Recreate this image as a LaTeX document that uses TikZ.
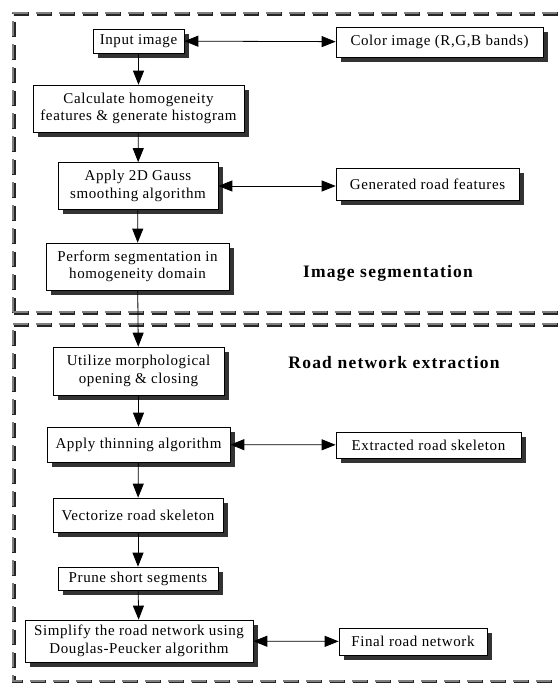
\documentclass[tikz,border=0pt]{standalone}
\usepackage{fontspec}
\setmainfont{Liberation Serif}[LetterSpace=4]
\usetikzlibrary{arrows.meta,shadows}

\begin{document}
\begin{tikzpicture}[x=1pt,y=-1pt,line width=0.8pt,
  >={Triangle[length=14pt,width=11pt]},
  box/.style={draw,line width=0.7pt,fill=white,align=center,inner sep=2pt,
    font=\fontsize{15}{17.5}\selectfont,
    drop shadow={shadow xshift=4.5pt,shadow yshift=-4.5pt,fill=black!80,opacity=1}},
  lbl/.style={font=\fontsize{17.5}{20}\selectfont\bfseries\addfontfeatures{LetterSpace=7}},
  border/.style={draw=black!85,line width=4.5pt,dash pattern=on 15pt off 8pt},
  bordertop/.style={draw=black!50,line width=2pt,dash pattern=on 15pt off 8pt,
    transform canvas={shift={(-0.8pt,0.8pt)}}}]
\useasboundingbox (0,0) rectangle (559,683);
\clip (0,0) rectangle (559,683);
% frames
\foreach \s in {border,bordertop}{
  \draw[\s] (14,313) -- (14,14) -- (575,14);
  \draw[\s] (14,313) -- (575,313);
  \draw[\s] (14,325) -- (575,325);
  \draw[\s] (14,331) -- (14,682) -- (575,682);
}
% left column
\node[box,minimum width=91pt,minimum height=24pt] (inp) at (138.5,41) {Input image};
\node[box,minimum width=211pt,minimum height=47pt] (calc) at (138.5,108.5) {Calculate homogeneity\\features \& generate histogram};
\node[box,minimum width=160pt,minimum height=47pt] (gauss) at (138,186) {Apply 2D Gauss\\smoothing algorithm};
\node[box,minimum width=183pt,minimum height=47pt] (perf) at (137.5,266.5) {Perform segmentation in\\homogeneity domain};
\node[box,minimum width=171pt,minimum height=48pt] (morph) at (138.5,371) {Utilize morphological\\opening \& closing};
\node[box,minimum width=183pt,minimum height=35pt] (thin) at (138.5,444.5) {Apply thinning algorithm};
\node[box,minimum width=170pt,minimum height=34pt] (vect) at (138,515) {Vectorize road skeleton};
\node[box,minimum width=160pt,minimum height=23pt] (prune) at (138,578.5) {Prune short segments};
\node[box,minimum width=228pt,minimum height=42pt] (simp) at (139,641) {Simplify the road network using\\Douglas-Peucker algorithm};
% right column
\node[box,minimum width=207pt,minimum height=30pt] (col) at (439.5,42) {Color image (R,G,B bands)};
\node[box,minimum width=183pt,minimum height=32pt] (gen) at (427.5,184) {Generated road features};
\node[box,minimum width=185pt,minimum height=26pt] (skel) at (428.5,445) {Extracted road skeleton};
\node[box,minimum width=148pt,minimum height=27pt] (fin) at (413,641.5) {Final road network};
\node[lbl] (seg) at (388,273) {Image segmentation};
\node[lbl] (road) at (394,363) {Road network extraction};
% connectors
\draw[->] (inp) -- (calc);
\draw[->] (calc) -- (gauss);
\draw[->] (gauss) -- (perf);
\draw[->] (perf) -- (morph);
\draw[->] (morph) -- (thin);
\draw[->] (thin) -- (vect);
\draw[->] (vect) -- (prune);
\draw[->] (prune) -- (simp);
\draw[<->] (inp) -- (col);
\draw[<->] (gauss.east) -- (gauss.east -| gen.west);
\draw[<->] (thin) -- (skel);
\draw[<->] (simp) -- (fin);
\end{tikzpicture}
\end{document}
